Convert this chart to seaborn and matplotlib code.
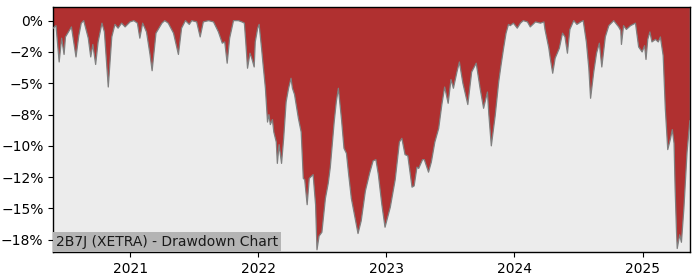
import matplotlib
matplotlib.use("Agg")
import matplotlib.pyplot as plt
import matplotlib.dates as mdates
from matplotlib.ticker import MultipleLocator, PercentFormatter
import pandas as pd
import seaborn as sns

title_text = "2B7J (XETRA) - Drawdown Chart"

dates = [
    "2020-05-26", "2020-06-03", "2020-06-12", "2020-06-19", "2020-06-26", "2020-06-30",
    "2020-07-13", "2020-07-17", "2020-07-30", "2020-08-07", "2020-08-14", "2020-08-21",
    "2020-09-03", "2020-09-10", "2020-09-16", "2020-09-24", "2020-10-01", "2020-10-12",
    "2020-10-19", "2020-10-30", "2020-11-09", "2020-11-18", "2020-11-27", "2020-12-07",
    "2020-12-17", "2020-12-31", "2021-01-11", "2021-01-21", "2021-01-28", "2021-02-05",
    "2021-02-16", "2021-02-26", "2021-03-04", "2021-03-15", "2021-04-01", "2021-04-09",
    "2021-04-19", "2021-05-04", "2021-05-18", "2021-05-27", "2021-06-07", "2021-06-18",
    "2021-06-25", "2021-07-09", "2021-07-19", "2021-07-28", "2021-08-12", "2021-08-26",
    "2021-09-09", "2021-09-20", "2021-09-27", "2021-10-04", "2021-10-11", "2021-10-22",
    "2021-11-05", "2021-11-15", "2021-11-22", "2021-11-26", "2021-12-01", "2021-12-08",
    "2021-12-13", "2021-12-20", "2021-12-23", "2021-12-30", "2022-01-03", "2022-01-10",
    "2022-01-14", "2022-01-21", "2022-01-27", "2022-01-31", "2022-02-04", "2022-02-10",
    "2022-02-14", "2022-02-21", "2022-02-24", "2022-03-01", "2022-03-08", "2022-03-14",
    "2022-03-21", "2022-03-28", "2022-04-04", "2022-04-08", "2022-04-14", "2022-04-25",
    "2022-05-03", "2022-05-09", "2022-05-13", "2022-05-20", "2022-05-26", "2022-06-06",
    "2022-06-13", "2022-06-17", "2022-06-23", "2022-07-01", "2022-07-11", "2022-07-19",
    "2022-07-25", "2022-08-05", "2022-08-11", "2022-08-17", "2022-08-26", "2022-09-02",
    "2022-09-09", "2022-09-15", "2022-09-23", "2022-10-04", "2022-10-12", "2022-10-21",
    "2022-11-02", "2022-11-14", "2022-11-24", "2022-12-02", "2022-12-09", "2022-12-19",
    "2022-12-28", "2023-01-12", "2023-01-26", "2023-02-07", "2023-02-14", "2023-02-23",
    "2023-03-03", "2023-03-15", "2023-03-21", "2023-03-29", "2023-04-03", "2023-04-14",
    "2023-04-19", "2023-05-01", "2023-05-09", "2023-05-19", "2023-05-30", "2023-06-08",
    "2023-06-16", "2023-06-26", "2023-07-04", "2023-07-11", "2023-07-21", "2023-07-28",
    "2023-08-07", "2023-08-21", "2023-09-01", "2023-09-14", "2023-09-25", "2023-10-05",
    "2023-10-16", "2023-10-20", "2023-10-27", "2023-11-07", "2023-11-17", "2023-11-24",
    "2023-12-01", "2023-12-08", "2023-12-15", "2023-12-20", "2023-12-29", "2024-01-09",
    "2024-01-18", "2024-01-26", "2024-02-07", "2024-02-15", "2024-03-01", "2024-03-15",
    "2024-03-25", "2024-03-28", "2024-04-08", "2024-04-12", "2024-04-19", "2024-04-26",
    "2024-05-08", "2024-05-17", "2024-05-24", "2024-05-31", "2024-06-07", "2024-06-18",
    "2024-06-27", "2024-07-08", "2024-07-15", "2024-07-24", "2024-07-31", "2024-08-05",
    "2024-08-14", "2024-08-22", "2024-08-30", "2024-09-06", "2024-09-16", "2024-09-26",
    "2024-10-10", "2024-10-24", "2024-10-30", "2024-11-01", "2024-11-07", "2024-11-15",
    "2024-11-27", "2024-12-11", "2024-12-20", "2024-12-30", "2025-01-06", "2025-01-10",
    "2025-01-15", "2025-01-21", "2025-01-27", "2025-02-06", "2025-02-14", "2025-02-20",
    "2025-02-28", "2025-03-06", "2025-03-13", "2025-03-21", "2025-03-26", "2025-03-31",
    "2025-04-03", "2025-04-07", "2025-04-09", "2025-04-16", "2025-04-21", "2025-04-28",
    "2025-05-07", "2025-05-15",
]

drawdown_pct = [
    -0.6, -0.4, -3.3, -1.4, -2.7, -1.3,
    -0.7, -0.5, -2.9, -1.2, -0.2, 0.0,
    -1.4, -2.9, -1.9, -3.5, -1.7, -0.2,
    -0.9, -5.3, -1.3, -0.3, -0.6, -0.2,
    -0.5, -0.1, 0.0, -0.2, -1.4, -0.2,
    -0.9, -2.7, -4.0, -1.0, -0.2, 0.0,
    -0.2, -1.0, -2.7, -0.6, 0.0, -0.3,
    0.0, -0.1, -1.3, -0.1, 0.0, -0.1,
    -0.9, -1.8, -1.7, -3.4, -1.4, 0.0,
    0.0, -0.1, -0.2, -1.7, -3.8, -2.6,
    -3.0, -3.7, -1.7, -0.6, -0.3, -2.2,
    -3.4, -5.4, -8.1, -7.5, -8.3, -7.9,
    -8.9, -9.7, -11.4, -9.9, -11.4, -9.4,
    -6.5, -5.4, -4.6, -5.4, -5.9, -7.8,
    -8.9, -12.6, -12.7, -14.7, -12.6, -12.3,
    -14.7, -18.3, -17.2, -16.9, -14.2, -13.0,
    -11.7, -8.1, -6.5, -5.4, -7.9, -10.2,
    -10.6, -12.2, -14.2, -15.8, -17.0, -16.0,
    -13.6, -12.2, -11.2, -11.1, -12.3, -14.7,
    -16.5, -14.9, -12.7, -9.7, -9.4, -10.7,
    -10.8, -13.3, -13.2, -11.7, -11.8, -11.1,
    -11.1, -12.1, -11.3, -9.7, -8.6, -6.7,
    -5.3, -6.6, -4.7, -5.4, -4.1, -3.3,
    -5.0, -6.7, -4.1, -3.4, -5.4, -7.0,
    -5.7, -7.5, -10.0, -7.6, -4.9, -3.5,
    -2.2, -1.0, -0.3, -0.4, -0.2, -0.6,
    -0.2, 0.0, -0.1, -0.5, -0.1, -0.2,
    -0.1, -0.7, -2.2, -3.0, -4.2, -3.0,
    -2.2, -1.0, -1.3, -2.6, -0.7, 0.0,
    -0.3, -0.1, 0.0, -1.7, -3.8, -6.2,
    -4.1, -2.6, -1.8, -3.7, -1.3, -0.4,
    0.0, -0.5, -0.8, -1.9, -0.4, -0.7,
    -0.4, -0.2, -2.1, -2.5, -2.0, -3.1,
    -1.5, -0.9, -1.7, -1.5, -1.7, -1.3,
    -2.8, -7.0, -10.3, -9.4, -8.7, -9.8,
    -13.4, -16.9, -18.2, -17.1, -17.7, -15.0,
    -10.5, -8.0,
]

df = pd.DataFrame({"date": pd.to_datetime(dates), "drawdown": drawdown_pct})

fig = plt.figure(figsize=(7, 2.8), dpi=100)
ax = fig.add_axes([0.076, 0.099, 0.91, 0.876])
ax.set_facecolor("#ECECEC")

y_top = 1.09
y_bottom = -18.5

ax.fill_between(df["date"], df["drawdown"], y_top + 5, color="#B03030", linewidth=0, zorder=2)
sns.lineplot(data=df, x="date", y="drawdown", ax=ax, color="#7f7f7f", linewidth=0.9, zorder=3)

ax.set_ylim(y_bottom, y_top)
ax.set_xlim(df["date"].min(), df["date"].max() + pd.Timedelta(days=1))

ax.yaxis.set_major_locator(MultipleLocator(2.5))
ax.yaxis.set_major_formatter(PercentFormatter(xmax=100, decimals=0))
ax.xaxis.set_major_locator(mdates.YearLocator())
ax.xaxis.set_major_formatter(mdates.DateFormatter("%Y"))
ax.set_xlabel("")
ax.set_ylabel("")
ax.tick_params(labelsize=10, colors="black")
for s in ax.spines.values():
    s.set_color("black")
    s.set_linewidth(1.0)

ax.text(0.0047, 0.012, title_text, transform=ax.transAxes, ha="left", va="bottom",
        fontsize=10, color="#1a1a1a", zorder=5,
        bbox=dict(boxstyle="square,pad=0.22", facecolor="#B4B4B4", edgecolor="none"))

fig.savefig("out.png", dpi=100)
